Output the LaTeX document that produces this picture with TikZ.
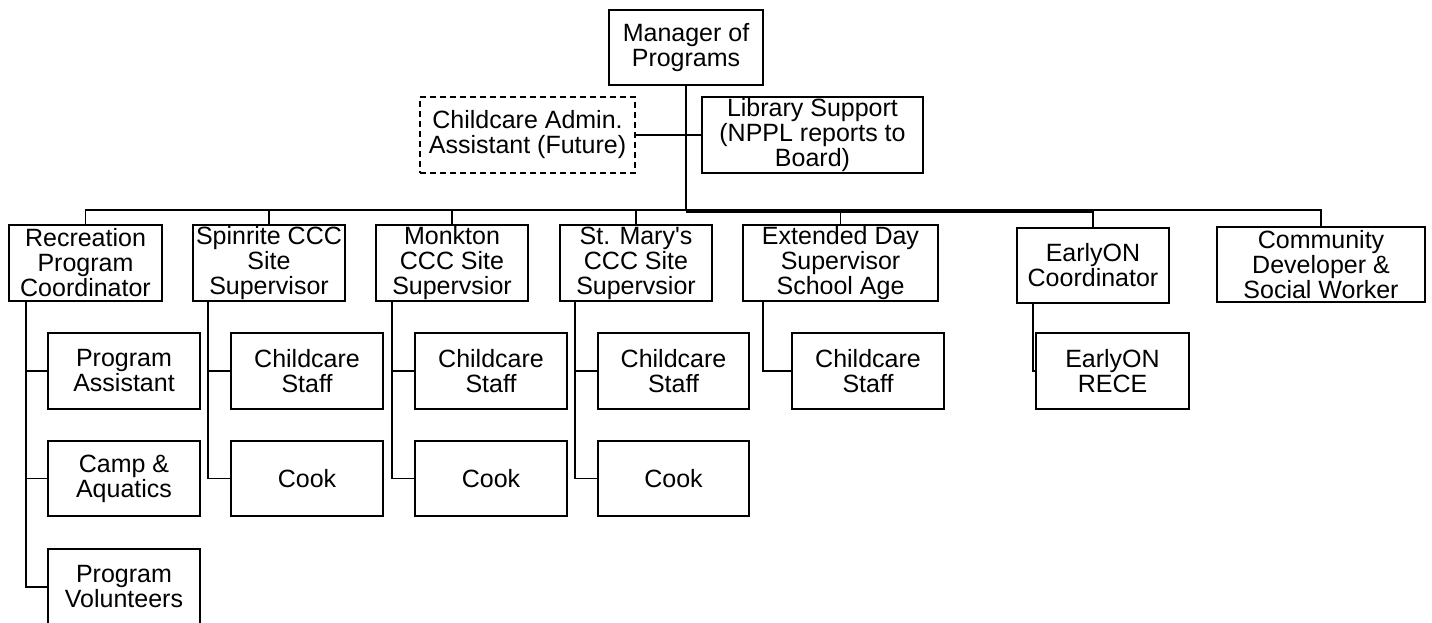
\documentclass[tikz,border=0pt]{standalone}
\usepackage{fontspec}
\setmainfont{Liberation Sans}
\begin{document}
\begin{tikzpicture}[x=1pt,y=-1pt,
  box/.style={draw, line width=1.5pt, inner sep=0pt, align=center,
    font=\fontsize{25}{25}\selectfont, minimum height=76pt},
  wire/.style={line width=1.5pt},
  trunk/.style={line width=2.6pt}]
\clip (0,0) rectangle (1432,622);
\fill[white] (0,0) rectangle (1432,622);

% top level
\node[box, minimum width=154pt, minimum height=75pt] (mgr) at (686,47.5) {Manager of\\Programs};
\node[box, minimum width=215pt, dash pattern=on 6pt off 4pt] (admin) at (527.5,135) {Childcare Admin.\\Assistant (Future)};
\node[box, minimum width=221pt] (lib) at (812.5,135) {Library Support\\(NPPL reports to\\Board)};

% second level
\node[box, minimum width=153pt] (rec) at (85.5,263) {Recreation\\Program\\Coordinator};
\node[box, minimum width=152pt] (spin) at (269,263) {Spinrite CCC\\Site\\Supervisor};
\node[box, minimum width=152pt] (monk) at (452,263) {Monkton\\CCC Site\\Supervsior};
\node[box, minimum width=152pt] (mary) at (636,263) {St. Mary\textquotesingle s\\CCC Site\\Supervsior};
\node[box, minimum width=195pt] (ext) at (840.5,263) {Extended Day\\Supervisor\\School Age};
\node[box, minimum width=152pt, minimum height=75pt] (eon) at (1093,265.5) {EarlyON\\Coordinator};
\node[box, minimum width=208pt, minimum height=75pt] (com) at (1321,264.5) {Community\\Developer \&\\Social Worker};

% third level
\node[box, minimum width=152pt] (pa) at (124,371) {Program\\Assistant};
\node[box, minimum width=152pt, minimum height=75pt] (camp) at (124,478.5) {Camp \&\\Aquatics};
\node[box, minimum width=152pt] (vol) at (124,587) {Program\\Volunteers};
\node[box, minimum width=152pt] (spcc) at (307,371) {Childcare\\Staff};
\node[box, minimum width=152pt, minimum height=75pt] (spck) at (307,478.5) {Cook};
\node[box, minimum width=152pt] (mkcc) at (491,371) {Childcare\\Staff};
\node[box, minimum width=152pt, minimum height=75pt] (mkck) at (491,478.5) {Cook};
\node[box, minimum width=151pt] (mycc) at (673.5,371) {Childcare\\Staff};
\node[box, minimum width=151pt, minimum height=75pt] (myck) at (673.5,478.5) {Cook};
\node[box, minimum width=152pt] (excc) at (868,371) {Childcare\\Staff};
\node[box, minimum width=153pt] (rece) at (1112.5,371) {EarlyON\\RECE};

% trunk and bus
\coordinate (hub) at (686,211);
\coordinate (busL) at (85,210);
\coordinate (busR) at (1322,210);
\draw[trunk] (mgr.south) -- (hub);
\draw[wire] (admin.east) -- (lib.west);
\draw[wire] (busL) -- (busR);
\draw[wire] (686,212) -- (1094,212);
\foreach \n in {rec,spin,monk,mary,ext,eon,com}
  \draw[wire] (\n.north) -- (\n.north |- busL);

% spines to the staff boxes
\coordinate (recsp) at (26,301);
\coordinate (spinsp) at (208,301);
\coordinate (monksp) at (392,301);
\coordinate (marysp) at (575,301);
\coordinate (extsp) at (763,301);
\coordinate (eonsp) at (1033,303);
\draw[wire] (recsp) |- (pa.west);
\draw[wire] (recsp) |- (camp.west);
\draw[wire] (recsp) |- (vol.west);
\draw[wire] (spinsp) |- (spcc.west);
\draw[wire] (spinsp) |- (spck.west);
\draw[wire] (monksp) |- (mkcc.west);
\draw[wire] (monksp) |- (mkck.west);
\draw[wire] (marysp) |- (mycc.west);
\draw[wire] (marysp) |- (myck.west);
\draw[wire] (extsp) |- (excc.west);
\draw[wire] (eonsp) |- (rece.west);
\end{tikzpicture}
\end{document}
